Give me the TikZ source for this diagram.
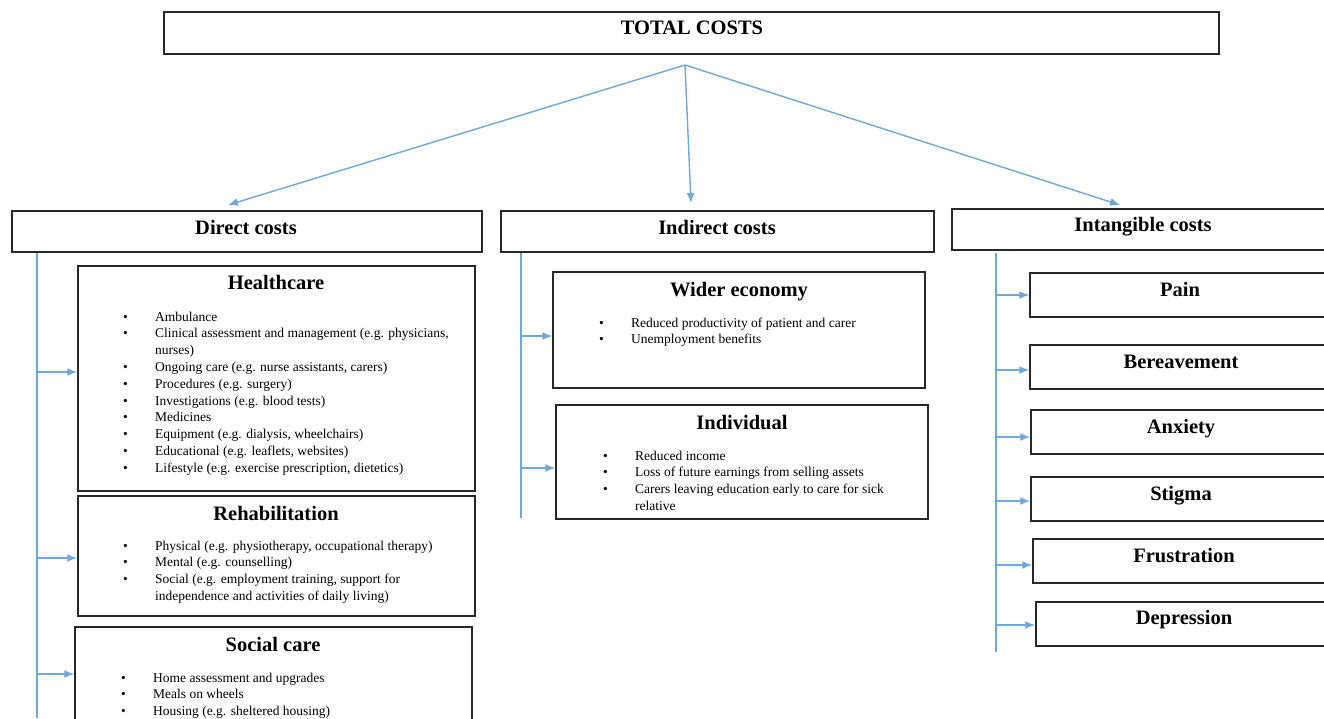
\documentclass[tikz,border=0pt]{standalone}
\usepackage{fontspec}
\setmainfont{Liberation Serif}
\usetikzlibrary{arrows.meta}
\definecolor{arrblue}{RGB}{111,168,222}
\definecolor{boxline}{RGB}{40,40,40}
\newcommand{\blt}{\textbullet}
\begin{document}
\begin{tikzpicture}[x=1pt,y=-1pt,
  box/.style={draw=boxline, line width=1.5pt, rectangle, inner sep=0pt},
  ttl/.style={anchor=base, inner sep=0pt, font=\fontsize{20.5}{24}\selectfont\bfseries},
  lst/.style={anchor=base west, inner sep=0pt, font=\fontsize{13.5}{16.8}\selectfont},
  arr/.style={draw=arrblue, line width=1.4pt, -{Latex[length=10pt,width=8pt]}},
  ln/.style={draw=arrblue, line width=1.4pt}]
\useasboundingbox (0,0) rectangle (1324,718);
\clip (0,0) rectangle (1324,718);

% top
\node[box, minimum width=1055pt, minimum height=42pt] (total) at (691.5,33) {};
\node[ttl] (totalT) at (692,34) {TOTAL COSTS};

% level 1
\node[box, minimum width=470pt, minimum height=41pt] (direct) at (247,231.5) {};
\node[ttl] (directT) at (246,234) {Direct costs};
\node[box, minimum width=433pt, minimum height=41pt] (indirect) at (717.5,231.5) {};
\node[ttl] (indirectT) at (717,234) {Indirect costs};
\node[box, minimum width=378pt, minimum height=41pt] (intang) at (1141,229.5) {};
\node[ttl] (intangT) at (1143,231) {Intangible costs};

\coordinate (src) at (685,65);
\coordinate (dEnd) at (228,205);
\coordinate (iEnd) at (691,203);
\coordinate (tEnd) at (1120,205);
\draw[arr] (src) -- (dEnd);
\draw[arr] (src) -- (iEnd);
\draw[arr] (src) -- (tEnd);

% direct costs children
\node[box, minimum width=397pt, minimum height=225pt] (hc) at (276.5,378.5) {};
\node[ttl] (hcT) at (276,289) {Healthcare};
\node[lst] (hcL) at (123,321) {\begin{tabular}[t]{@{}p{32pt}@{}l@{}}
\blt & Ambulance\\
\blt & Clinical assessment and management (e.g. physicians,\\
 & nurses)\\
\blt & Ongoing care (e.g. nurse assistants, carers)\\
\blt & Procedures (e.g. surgery)\\
\blt & Investigations (e.g. blood tests)\\
\blt & Medicines\\
\blt & Equipment (e.g. dialysis, wheelchairs)\\
\blt & Educational (e.g. leaflets, websites)\\
\blt & Lifestyle (e.g. exercise prescription, dietetics)
\end{tabular}};

\node[box, minimum width=397pt, minimum height=120pt] (rehab) at (276.5,556) {};
\node[ttl] (rehabT) at (276,520) {Rehabilitation};
\node[lst] (rehabL) at (123,550) {\begin{tabular}[t]{@{}p{32pt}@{}l@{}}
\blt & Physical (e.g. physiotherapy, occupational therapy)\\
\blt & Mental (e.g. counselling)\\
\blt & Social (e.g. employment training, support for\\
 & independence and activities of daily living)
\end{tabular}};

\node[box, minimum width=397pt, minimum height=103pt] (social) at (273.5,678.5) {};
\node[ttl] (socialT) at (273,651) {Social care};
\node[lst] (socialL) at (121,682) {\begin{tabular}[t]{@{}p{32pt}@{}l@{}}
\blt & Home assessment and upgrades\\
\blt & Meals on wheels\\
\blt & Housing (e.g. sheltered housing)
\end{tabular}};

\coordinate (dTop) at (37,253);
\coordinate (dBot) at (37,718);
\draw[ln] (dTop) -- (dBot);
\coordinate (d1) at (37,372);
\coordinate (d2) at (37,558);
\coordinate (d3) at (37,674);
\draw[arr] (d1) -- (d1 -| hc.west);
\draw[arr] (d2) -- (d2 -| rehab.west);
\draw[arr] (d3) -- (d3 -| social.west);

% indirect costs children
\node[box, minimum width=372pt, minimum height=116pt] (wider) at (739,330) {};
\node[ttl] (widerT) at (739,296) {Wider economy};
\node[lst] (widerL) at (599,327) {\begin{tabular}[t]{@{}p{32pt}@{}l@{}}
\blt & Reduced productivity of patient and carer\\
\blt & Unemployment benefits
\end{tabular}};

\node[box, minimum width=372pt, minimum height=114pt] (indiv) at (742,462) {};
\node[ttl] (indivT) at (742,429) {Individual};
\node[lst] (indivL) at (603,460) {\begin{tabular}[t]{@{}p{32pt}@{}l@{}}
\blt & Reduced income\\
\blt & Loss of future earnings from selling assets\\
\blt & Carers leaving education early to care for sick\\
 & relative
\end{tabular}};

\coordinate (iTop) at (521,253);
\coordinate (iBot) at (521,518);
\draw[ln] (iTop) -- (iBot);
\coordinate (i1) at (521,336);
\coordinate (i2) at (521,468);
\draw[arr] (i1) -- (i1 -| wider.west);
\draw[arr] (i2) -- (i2 -| indiv.west);

% intangible children
\node[box, minimum width=300pt, minimum height=44pt] (pain) at (1180,295) {};
\node[ttl] (painT) at (1180,296) {Pain};
\node[box, minimum width=300pt, minimum height=44pt] (berv) at (1180,367) {};
\node[ttl] (bervT) at (1181,368) {Bereavement};
\node[box, minimum width=299pt, minimum height=44pt] (anx) at (1180.5,432) {};
\node[ttl] (anxT) at (1181,433) {Anxiety};
\node[box, minimum width=299pt, minimum height=44pt] (stig) at (1180.5,499) {};
\node[ttl] (stigT) at (1181,500) {Stigma};
\node[box, minimum width=297pt, minimum height=44pt] (frus) at (1181.5,561) {};
\node[ttl] (frusT) at (1184,562) {Frustration};
\node[box, minimum width=294pt, minimum height=44pt] (depr) at (1183,624) {};
\node[ttl] (deprT) at (1184,624) {Depression};

\coordinate (tTop) at (996,253);
\coordinate (tBot) at (996,652);
\draw[ln] (tTop) -- (tBot);
\coordinate (t1) at (996,295);
\coordinate (t2) at (996,370);
\coordinate (t3) at (996,437);
\coordinate (t4) at (996,501);
\coordinate (t5) at (996,565);
\coordinate (t6) at (996,625);
\draw[arr] (t1) -- (t1 -| pain.west);
\draw[arr] (t2) -- (t2 -| berv.west);
\draw[arr] (t3) -- (t3 -| anx.west);
\draw[arr] (t4) -- (t4 -| stig.west);
\draw[arr] (t5) -- (t5 -| frus.west);
\draw[arr] (t6) -- (t6 -| depr.west);
\end{tikzpicture}
\end{document}
